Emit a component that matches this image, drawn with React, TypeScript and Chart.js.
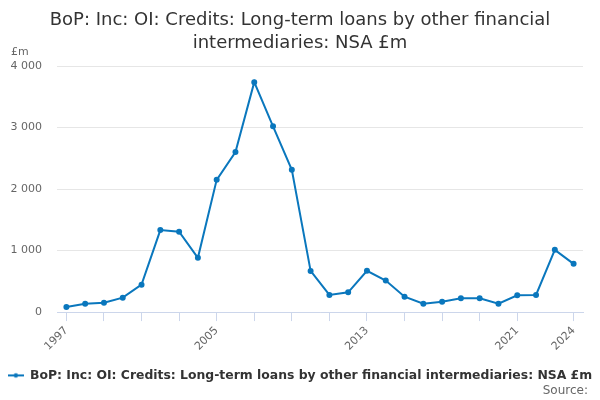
import { useEffect, useRef } from "react";
import { Chart, registerables } from "chart.js";

Chart.register(...registerables);

const years = [
  "1997", "1998", "1999", "2000", "2001", "2002", "2003", "2004", "2005", "2006",
  "2007", "2008", "2009", "2010", "2011", "2012", "2013", "2014", "2015", "2016",
  "2017", "2018", "2019", "2020", "2021", "2022", "2023", "2024",
];
const credits = [
  82, 136, 152, 234, 446, 1333, 1306, 882, 2150, 2601,
  3739, 3020, 2313, 669, 278, 321, 670, 512, 251, 136,
  169, 223, 223, 136, 272, 278, 1012, 784,
];
const labelledYears = ["1997", "2005", "2013", "2021", "2024"];
const tickMarkYears = [
  "1997", "1999", "2001", "2003", "2005", "2007", "2009", "2011", "2013",
  "2015", "2017", "2019", "2021", "2024",
];

const seriesName = "BoP: Inc: OI: Credits: Long-term loans by other financial intermediaries: NSA £m";
const lineColor = "#0a77bd";

// little line-and-dot swatch for the legend
function makeMarker() {
  const c = document.createElement("canvas");
  c.width = 16;
  c.height = 8;
  const g = c.getContext("2d")!;
  g.strokeStyle = lineColor;
  g.lineWidth = 2;
  g.beginPath();
  g.moveTo(0, 4);
  g.lineTo(16, 4);
  g.stroke();
  g.fillStyle = lineColor;
  g.beginPath();
  g.arc(8, 4, 2.2, 0, Math.PI * 2);
  g.fill();
  return c;
}

// "£m" above the value axis and the "Source:" credit bottom right
const extraText = {
  id: "extraText",
  afterDraw(chart: Chart) {
    const { ctx, chartArea, width, height } = chart;
    ctx.save();
    ctx.font = "11px 'DejaVu Sans', sans-serif";
    ctx.fillStyle = "#666666";
    ctx.textAlign = "left";
    ctx.textBaseline = "middle";
    ctx.fillText("£m", 11, chartArea.top - 14);
    ctx.font = "12px 'DejaVu Sans', sans-serif";
    ctx.textAlign = "right";
    ctx.fillText("Source:", width - 12, height - 9);
    ctx.restore();
  },
};

export default function App() {
  const canvasRef = useRef<HTMLCanvasElement>(null);
  const chartRef = useRef<Chart | null>(null);

  useEffect(() => {
    if (!canvasRef.current) return;
    Chart.defaults.font.family = "'DejaVu Sans', sans-serif";

    chartRef.current?.destroy();
    chartRef.current = new Chart(canvasRef.current, {
      type: "line",
      data: {
        labels: years,
        datasets: [
          {
            label: seriesName,
            data: credits,
            borderColor: lineColor,
            backgroundColor: lineColor,
            borderWidth: 2,
            pointRadius: 2,
            pointBackgroundColor: lineColor,
            tension: 0,
          },
        ],
      },
      options: {
        animation: false,
        responsive: true,
        maintainAspectRatio: false,
        layout: { padding: { left: 0, right: 0, top: 0, bottom: 8.4 } },
        plugins: {
          title: {
            display: true,
            text: ["BoP: Inc: OI: Credits: Long-term loans by other financial", "intermediaries: NSA £m"],
            color: "#333333",
            font: { size: 18, weight: "normal", lineHeight: 1.28 },
            padding: { top: 9, bottom: 11 },
          },
          legend: {
            position: "bottom",
            labels: {
              usePointStyle: true,
              pointStyle: makeMarker(),
              pointStyleWidth: 16,
              color: "#333333",
              font: { size: 12.4, weight: "bold" },
              padding: 2,
            },
          },
          tooltip: { enabled: false },
        },
        scales: {
          x: {
            offset: true,
            afterFit: (scale) => {
              scale.paddingLeft = 0;
              scale.paddingRight = 17;
              scale.height += 11;
            },
            grid: {
              drawOnChartArea: false,
              drawTicks: true,
              tickLength: 9,
              color: (ctx) => (tickMarkYears.includes(years[ctx.index]) ? "#ccd6eb" : "rgba(0,0,0,0)"),
            },
            border: { color: "#ccd6eb" },
            ticks: {
              autoSkip: false,
              minRotation: 45,
              maxRotation: 45,
              color: "#666666",
              font: { size: 11 },
              callback: (_v, i) => (labelledYears.includes(years[i]) ? years[i] : ""),
            },
          },
          y: {
            min: 0,
            max: 4000,
            afterFit: (scale) => {
              scale.width = 57;
            },
            grid: { color: "#e6e6e6", drawTicks: false },
            border: { display: false },
            ticks: {
              stepSize: 1000,
              padding: 15,
              color: "#666666",
              font: { size: 11 },
              callback: (v) => String(v).replace(/\B(?=(\d{3})+(?!\d))/g, " "),
            },
          },
        },
      },
      plugins: [extraText],
    });

    return () => {
      chartRef.current?.destroy();
    };
  }, []);

  return (
    <div style={{ position: "absolute", left: 0, top: 0, width: 600, height: 400, background: "#fff" }}>
      <canvas ref={canvasRef} />
    </div>
  );
}
